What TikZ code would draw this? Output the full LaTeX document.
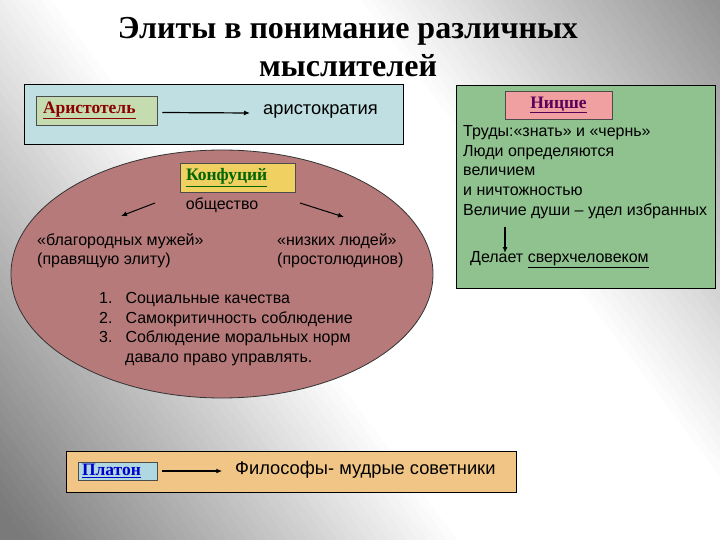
\documentclass[tikz,border=0pt]{standalone}
\usepackage{fontspec}
\setmainfont{Liberation Sans}
\newfontfamily\titlefont{Liberation Serif}
\usetikzlibrary{arrows.meta}

\definecolor{bluebox}{HTML}{C0DFE3}
\definecolor{greenbox}{HTML}{8FC28F}
\definecolor{rosefill}{HTML}{B67A7A}
\definecolor{tanbox}{HTML}{F0C585}
\definecolor{namegreen}{HTML}{C4DCB0}
\definecolor{namepink}{HTML}{F0A0A0}
\definecolor{nameyellow}{HTML}{F0D060}
\definecolor{nameblue}{HTML}{B0D8E0}
\definecolor{bggray}{HTML}{7A7A7A}

\tikzset{
  panel/.style={draw=black, line width=0.8pt},
  namebox/.style={draw=black!70, line width=0.5pt, inner ysep=0pt, font=\titlefont\bfseries\fontsize{17.5}{19}\selectfont},
  body/.style={font=\fontsize{16}{19.8}\selectfont, inner sep=0pt},
  bigtext/.style={font=\fontsize{18.3}{22}\selectfont, inner sep=0pt},
  link/.style={-{Latex[length=6pt,width=5pt]}, line width=1.2pt}
}

\begin{document}
\begin{tikzpicture}[x=1pt, y=-1pt]
  % background: diagonal grey-white-grey bands
  \useasboundingbox (0,0) rectangle (720,540);
  \begin{scope}
    \clip (0,0) rectangle (720,540);
    \begin{scope}[shift={(390,250)}, rotate=37]
      \foreach \u in {-600,-592,...,600} {
        \pgfmathsetmacro\w{min(100,max(0,(470-abs(\u))/3.5))}
        \fill[white!\w!bggray] (\u-0.5,-700) rectangle (\u+8.5,700);
      }
    \end{scope}
  \end{scope}

  % title
  \node[font=\titlefont\bfseries\fontsize{32}{38}\selectfont, align=center] (title) at (348,47)
    {Элиты в понимание различных\\мыслителей};

  % TOP: Aristotle
  \fill[panel, fill=bluebox] (24,84) rectangle (403,144);
  \node[namebox, fill=namegreen, inner xsep=7pt, text width=107pt, align=left, minimum height=29pt, text=red!55!black] (arist) at (96.5,110.5) {\underline{Аристотель}};
  \node[bigtext, anchor=west] (aristocr) at (263,111) {аристократия};
  \draw[link] ([xshift=5pt,yshift=-2pt]arist.east) -- ([xshift=-13pt,yshift=-2pt]aristocr.west);

  % RIGHT: Nietzsche
  \fill[panel, fill=greenbox] (456,85) rectangle (715,288);
  \node[namebox, fill=namepink, inner xsep=0pt, minimum width=107pt, minimum height=28pt, text=violet!70!black] (nietz) at (558.5,105) {\underline{Ницше}};
  \node[body, anchor=north west, align=left] (works) at (463,125)
    {Труды:«знать» и «чернь»\\Люди определяются\\величием\\и ничтожностью\\Величие души – удел избранных};
  \node[body, anchor=west] (superman) at (470,260) {Делает \underline{сверхчеловеком}};
  \draw[link] (505,227) -- (505,253);

  % MIDDLE: Confucius
  \fill[draw=black!80, line width=0.8pt, fill=rosefill] (222,274) ellipse (211 and 124);
  \node[namebox, fill=nameyellow, inner xsep=6pt, text width=103pt, align=left, minimum height=29pt, text=green!40!black] (conf) at (237.5,177.5) {\underline{Конфуций}};
  \node[body] (society) at (222,205) {общество};
  \draw[link, line width=1pt] (155,203) -- (121,216);
  \draw[link, line width=1pt] (300,203) -- (344,217);
  \node[body, anchor=north west, align=left] (noble) at (37,233)
    {«благородных мужей»\\(правящую элиту)};
  \node[body, anchor=north west, align=left] (common) at (277,233)
    {«низких людей»\\(простолюдинов)};
  \node[body, anchor=north west, align=left] (list) at (99,292)
    {1.\hspace{13pt}Социальные качества\\2.\hspace{13pt}Самокритичность соблюдение\\3.\hspace{13pt}Соблюдение моральных норм\\\hspace{26pt}давало право управлять.};

  % BOTTOM: Plato
  \fill[panel, fill=tanbox] (66,451) rectangle (516,492);
  \node[namebox, fill=nameblue, inner xsep=4pt, text width=71pt, align=left, minimum height=18pt, text=blue!80!black] (plato) at (117.5,471) {\underline{Платон}};
  \node[bigtext, anchor=west] (philos) at (235,470) {Философы- мудрые советники};
  \draw[link] ([xshift=5pt]plato.east) -- ++(60,0);
\end{tikzpicture}
\end{document}
